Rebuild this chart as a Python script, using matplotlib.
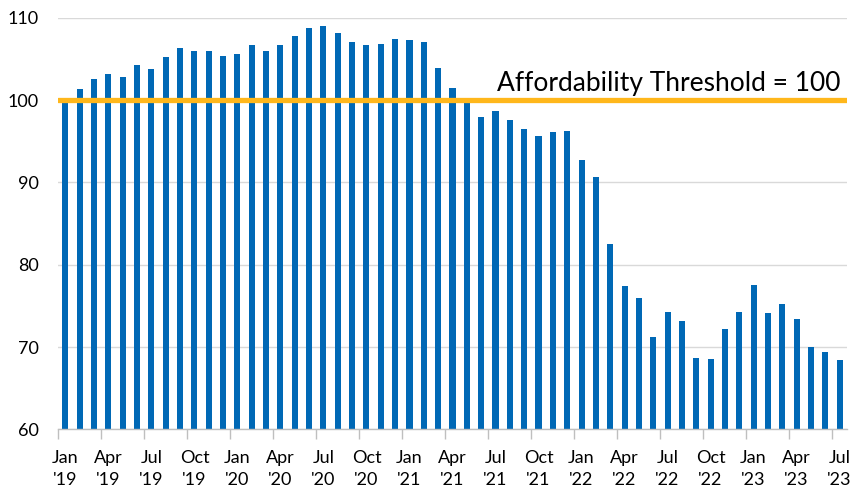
import numpy as np
import matplotlib.pyplot as plt
from matplotlib.ticker import FixedLocator

plt.rcParams["font.family"] = ["Lato", "DejaVu Sans"]

# monthly index values, Jan 2019 - Jul 2023
vals_2019 = [100.0, 101.4, 102.5, 103.2, 102.8, 104.2, 103.8, 105.2, 106.3, 105.9, 105.9, 105.3]
vals_2020 = [105.6, 106.7, 105.9, 106.7, 107.8, 108.7, 109.0, 108.1, 107.0, 106.7, 106.8, 107.4]
vals_2021 = [107.3, 107.0, 103.9, 101.5, 99.7, 98.0, 98.7, 97.6, 96.5, 95.6, 96.1, 96.3]
vals_2022 = [92.7, 90.7, 82.5, 77.4, 76.0, 71.2, 74.3, 73.2, 68.7, 68.6, 72.2, 74.3]
vals_2023 = [77.5, 74.1, 75.2, 73.4, 70.0, 69.4, 68.4]
values = vals_2019 + vals_2020 + vals_2021 + vals_2022 + vals_2023

months = ["Jan", "Apr", "Jul", "Oct"]
years = ["19", "20", "21", "22", "23"]
tick_labels = [f"{m}\n'{y}" for y in years for m in months][:19]

threshold = 100
threshold_label = "Affordability Threshold = 100"

bar_kwargs =    {"color": "#0068b5", "width": 0.42, "zorder": 2}
grid_kwargs =   {"color": "#d9d9d9", "lw": 1.0}
line_kwargs =   {"color": "#ffb71b", "lw": 3.8, "zorder": 3, "solid_capstyle": "round"}

fig = plt.figure(figsize=(8.52, 4.91), dpi=100)
ax = fig.add_axes([0.0684, 0.1253, 0.9254, 0.8387])

x = np.arange(len(values))
ax.bar(x, values, **bar_kwargs)
ax.axhline(threshold, **line_kwargs)
ax.text(54.1, 101.15, threshold_label, ha="right", va="baseline", fontsize=19, color="black", zorder=4)

ax.set_ylim(60, 110)
ax.set_xlim(-0.5, len(values) - 0.5)
ax.set_yticks(np.arange(60, 111, 10))
ax.yaxis.grid(True, **grid_kwargs)
ax.set_axisbelow(True)

ax.set_xticks(x[::3])
ax.set_xticklabels(tick_labels, linespacing=1.4)
ax.xaxis.set_minor_locator(FixedLocator(np.arange(-0.5, len(values) - 1, 3)))
ax.tick_params(axis="x", which="major", length=0, pad=15, labelsize=13)
ax.tick_params(axis="x", which="minor", length=7, color="#bfbfbf", width=1.0)
ax.tick_params(axis="y", length=0, pad=14, labelsize=13)

for side in ["left", "right", "top"]:
    ax.spines[side].set_visible(False)
ax.spines["bottom"].set_color("#bfbfbf")
ax.spines["bottom"].set_linewidth(1.0)

plt.savefig("out.png", dpi=100)
